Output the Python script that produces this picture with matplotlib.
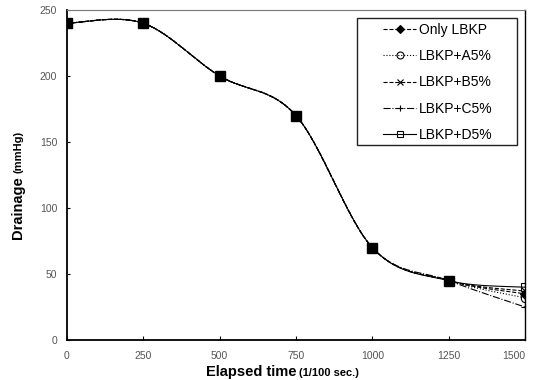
import numpy as np
import matplotlib.pyplot as plt
import matplotlib
from matplotlib.patches import Rectangle

matplotlib.rcParams['font.family'] = ['Liberation Sans', 'DejaVu Sans']

# data
elapsed = [0, 250, 500, 750, 1000, 1250, 1500]
only_lbkp = [240, 240, 200, 170, 70, 45, 35]
lbkp_a5 = [240, 240, 200, 170, 70, 45, 32]
lbkp_b5 = [240, 240, 200, 170, 70, 45, 37]
lbkp_c5 = [240, 240, 200, 170, 70, 45, 25]
lbkp_d5 = [240, 240, 200, 170, 70, 45, 40]
labels = ['Only LBKP', 'LBKP+A5%', 'LBKP+B5%', 'LBKP+C5%', 'LBKP+D5%']


def smooth(x, y, n=30):
    # excel style smoothed line (bezier through the points)
    pts = np.column_stack([np.asarray(x, float), np.asarray(y, float)])
    out = []
    t = np.linspace(0, 1, n)[:, None]
    for i in range(len(pts) - 1):
        p0 = pts[max(i - 1, 0)]
        p1 = pts[i]
        p2 = pts[i + 1]
        p3 = pts[min(i + 2, len(pts) - 1)]
        c1 = p1 + (p2 - p0) / 6
        c2 = p2 - (p3 - p1) / 6
        seg = (1 - t) ** 3 * p1 + 3 * (1 - t) ** 2 * t * c1 + 3 * (1 - t) * t ** 2 * c2 + t ** 3 * p2
        out.append(seg if i == 0 else seg[1:])
    out = np.vstack(out)
    return out[:, 0], out[:, 1]


W, H = 533, 380
fig = plt.figure(figsize=(W / 100, H / 100), dpi=100)
ax = fig.add_axes([67 / W, 40 / H, 458 / W, 330 / H])

series = [only_lbkp, lbkp_a5, lbkp_b5, lbkp_c5, lbkp_d5]
styles = [('--', 'D', 'k'), (':', 'o', 'none'), ('--', 'x', 'none'), ('-.', '+', 'none'), ('-', 's', 'none')]

for vals, lab, (ls, mk, mfc) in zip(series, labels, styles):
    sx, sy = smooth(elapsed, vals)
    ax.plot(sx, sy, color='black', linestyle=ls, linewidth=0.8)
    ax.plot(elapsed, vals, linestyle='none', marker=mk, color='black',
            markerfacecolor=mfc, markersize=6 if mk != 'D' else 5, markeredgewidth=0.8)
    # proxy for the legend
    ax.plot([], [], color='black', linestyle=ls, linewidth=0.8, marker=mk, markeredgewidth=0.8,
            markerfacecolor=mfc, markersize=5 if mk != 'D' else 4.5, label=lab)

# filled squares where all series overlap
ax.plot(elapsed[:-1], only_lbkp[:-1], linestyle='none', marker='s', color='black', markersize=7, zorder=5)

ax.set_xlim(0, 1500)
ax.set_ylim(0, 250)
ax.set_xticks(elapsed)
ax.set_yticks([0, 50, 100, 150, 200, 250])
ax.tick_params(axis='x', direction='in', length=3, labelsize=7.5, labelcolor='#555555', pad=8)
ax.tick_params(axis='y', direction='in', length=2, labelsize=7.5, labelcolor='#555555', pad=7)
ax.get_xticklabels()[-1].set_ha('right')
ax.spines['top'].set_color('#777777')
ax.spines['top'].set_linewidth(0.8)
ax.spines['right'].set_linewidth(1.0)
for s in ['left', 'bottom']:
    ax.spines[s].set_linewidth(1.3)

# axis titles: unit part in a smaller size
ax.text((296 - 67) / 458, -0.110, 'Elapsed time', transform=ax.transAxes, ha='right', va='baseline',
        fontsize=10.5, fontweight='bold')
ax.text((299 - 67) / 458, -0.110, '(1/100 sec.)', transform=ax.transAxes, ha='left', va='baseline',
        fontsize=8, fontweight='bold')
ax.text((18 - 67) / 458, (340 - 176) / 330, 'Drainage', transform=ax.transAxes, rotation=90,
        ha='center', va='top', fontsize=10.5, fontweight='bold')
ax.text((19 - 67) / 458, (340 - 173) / 330, '(mmHg)', transform=ax.transAxes, rotation=90,
        ha='center', va='bottom', fontsize=8, fontweight='bold')

leg = ax.legend(loc='upper left', bbox_to_anchor=(383 / W, 1 - 23 / H), bbox_transform=fig.transFigure,
                fontsize=10, frameon=False, borderpad=0, handlelength=2.4, labelspacing=0.88,
                handletextpad=0.2, borderaxespad=0)
fig.patches.append(Rectangle((357 / W, 1 - 145 / H), 160 / W, 127 / H, transform=fig.transFigure,
                             fill=False, edgecolor='#222222', linewidth=1.0))

fig.savefig('out.png', dpi=100)
